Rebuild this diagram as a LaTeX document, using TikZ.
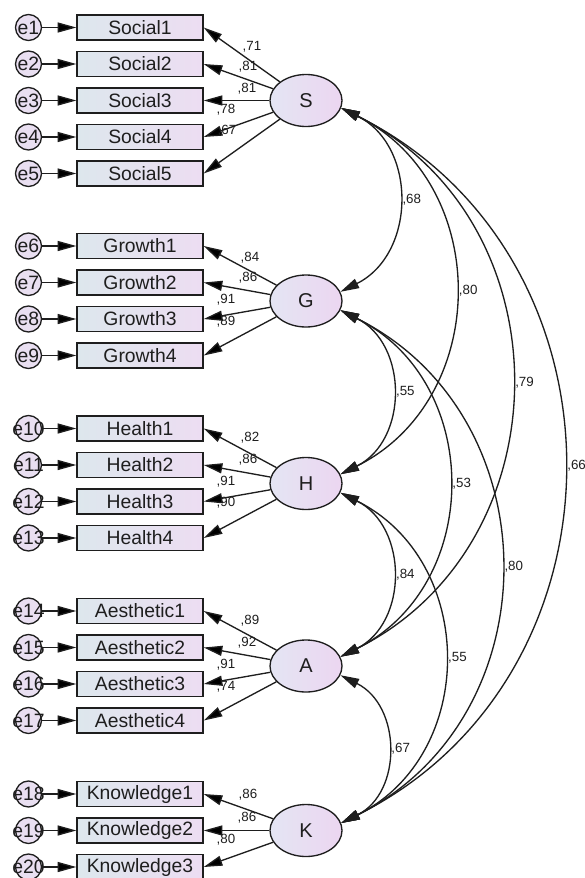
\documentclass[tikz,border=0pt]{standalone}
\usepackage{fontspec}
\setmainfont{Liberation Sans}
\usepackage{tikz}
\usetikzlibrary{arrows.meta,shapes.geometric}

\definecolor{boxleft}{RGB}{221,231,237}
\definecolor{boxright}{RGB}{237,221,242}
\definecolor{latleft}{RGB}{228,229,243}
\definecolor{latright}{RGB}{236,214,241}
\definecolor{errfill}{RGB}{233,223,241}
\definecolor{ink}{RGB}{30,30,30}

\begin{document}
\begin{tikzpicture}[x=0.75pt,y=-0.75pt,
	obs/.style={draw=ink,line width=1pt,left color=boxleft,right color=boxright,minimum width=94.5pt,minimum height=18.75pt,inner sep=0pt,text=ink,font=\fontsize{14.5}{16}\selectfont},
	err/.style={shape=circle,draw=ink,line width=1pt,fill=errfill,minimum size=19.5pt,inner sep=0pt,text=ink,font=\fontsize{14.5}{16}\selectfont},
	lat/.style={shape=ellipse,draw=ink,line width=1pt,left color=latleft,right color=latright,minimum width=54pt,minimum height=39pt,inner sep=0pt,text=ink,font=\fontsize{15}{17}\selectfont},
	coef/.style={inner sep=1pt,text=ink,font=\fontsize{10}{12}\selectfont},
	load/.style={draw=ink,line width=1pt,-{Triangle[length=14pt,width=7.5pt]}},
	cov/.style={draw=ink,line width=1pt,{Triangle[length=14pt,width=7.5pt]}-{Triangle[length=14pt,width=7.5pt]}}]

	\useasboundingbox (0,0) rectangle (585,878);

	% latent factors
	\node[lat] (S) at (306, 100.5) {S};
	\node[lat] (G) at (306, 301)   {G};
	\node[lat] (H) at (306, 483.5) {H};
	\node[lat] (A) at (306, 666)   {A};
	\node[lat] (K) at (306, 830.5) {K};

	% observed items
	\node[obs] (s1) at (140, 27.5)  {Social1};
	\node[obs] (s2) at (140, 64)    {Social2};
	\node[obs] (s3) at (140, 100.5) {Social3};
	\node[obs] (s4) at (140, 137)   {Social4};
	\node[obs] (s5) at (140, 173.5) {Social5};
	\node[obs] (g1) at (140, 246)   {Growth1};
	\node[obs] (g2) at (140, 282.5) {Growth2};
	\node[obs] (g3) at (140, 319)   {Growth3};
	\node[obs] (g4) at (140, 355.5) {Growth4};
	\node[obs] (h1) at (140, 428.5) {Health1};
	\node[obs] (h2) at (140, 465)   {Health2};
	\node[obs] (h3) at (140, 501.5) {Health3};
	\node[obs] (h4) at (140, 538)   {Health4};
	\node[obs] (a1) at (140, 611)   {Aesthetic1};
	\node[obs] (a2) at (140, 647.5) {Aesthetic2};
	\node[obs] (a3) at (140, 684)   {Aesthetic3};
	\node[obs] (a4) at (140, 720.5) {Aesthetic4};
	\node[obs] (k1) at (140, 794)   {Knowledge1};
	\node[obs] (k2) at (140, 830.5) {Knowledge2};
	\node[obs] (k3) at (140, 867)   {Knowledge3};

	% error terms
	\node[err] (e1)  at (28.5, 27.5)  {\makebox[0pt]{e1}};
	\node[err] (e2)  at (28.5, 64)    {\makebox[0pt]{e2}};
	\node[err] (e3)  at (28.5, 100.5) {\makebox[0pt]{e3}};
	\node[err] (e4)  at (28.5, 137)   {\makebox[0pt]{e4}};
	\node[err] (e5)  at (28.5, 173.5) {\makebox[0pt]{e5}};
	\node[err] (e6)  at (28.5, 246)   {\makebox[0pt]{e6}};
	\node[err] (e7)  at (28.5, 282.5) {\makebox[0pt]{e7}};
	\node[err] (e8)  at (28.5, 319)   {\makebox[0pt]{e8}};
	\node[err] (e9)  at (28.5, 355.5) {\makebox[0pt]{e9}};
	\node[err] (e10) at (28.5, 428.5) {\makebox[0pt]{e10}};
	\node[err] (e11) at (28.5, 465)   {\makebox[0pt]{e11}};
	\node[err] (e12) at (28.5, 501.5) {\makebox[0pt]{e12}};
	\node[err] (e13) at (28.5, 538)   {\makebox[0pt]{e13}};
	\node[err] (e14) at (28.5, 611)   {\makebox[0pt]{e14}};
	\node[err] (e15) at (28.5, 647.5) {\makebox[0pt]{e15}};
	\node[err] (e16) at (28.5, 684)   {\makebox[0pt]{e16}};
	\node[err] (e17) at (28.5, 720.5) {\makebox[0pt]{e17}};
	\node[err] (e18) at (28.5, 794)   {\makebox[0pt]{e18}};
	\node[err] (e19) at (28.5, 830.5) {\makebox[0pt]{e19}};
	\node[err] (e20) at (28.5, 867)   {\makebox[0pt]{e20}};

	% errors to items
	\path[load] (e1) edge (s1);
	\path[load] (e2) edge (s2);
	\path[load] (e3) edge (s3);
	\path[load] (e4) edge (s4);
	\path[load] (e5) edge (s5);
	\path[load] (e6) edge (g1);
	\path[load] (e7) edge (g2);
	\path[load] (e8) edge (g3);
	\path[load] (e9) edge (g4);
	\path[load] (e10) edge (h1);
	\path[load] (e11) edge (h2);
	\path[load] (e12) edge (h3);
	\path[load] (e13) edge (h4);
	\path[load] (e14) edge (a1);
	\path[load] (e15) edge (a2);
	\path[load] (e16) edge (a3);
	\path[load] (e17) edge (a4);
	\path[load] (e18) edge (k1);
	\path[load] (e19) edge (k2);
	\path[load] (e20) edge (k3);

	% loadings
	\path[load] (S) edge (s1.east);
	\path[load] (S) edge (s2.east);
	\path[load] (S) edge (s3.east);
	\path[load] (S) edge (s4.east);
	\path[load] (S) edge (s5.east);
	\path[load] (G) edge (g1.east);
	\path[load] (G) edge (g2.east);
	\path[load] (G) edge (g3.east);
	\path[load] (G) edge (g4.east);
	\path[load] (H) edge (h1.east);
	\path[load] (H) edge (h2.east);
	\path[load] (H) edge (h3.east);
	\path[load] (H) edge (h4.east);
	\path[load] (A) edge (a1.east);
	\path[load] (A) edge (a2.east);
	\path[load] (A) edge (a3.east);
	\path[load] (A) edge (a4.east);
	\path[load] (K) edge (k1.east);
	\path[load] (K) edge (k2.east);
	\path[load] (K) edge (k3.east);

	\node[coef] (ls1) at (252, 47)  {,71};
	\node[coef] (ls2) at (248, 67)  {,81};
	\node[coef] (ls3) at (247, 89)  {,81};
	\node[coef] (ls4) at (226, 110) {,78};
	\node[coef] (ls5) at (227, 131) {,67};
	\node[coef] (lg1) at (250, 258) {,84};
	\node[coef] (lg2) at (248, 278) {,86};
	\node[coef] (lg3) at (226, 300) {,91};
	\node[coef] (lg4) at (226, 322) {,89};
	\node[coef] (lh1) at (250, 438) {,82};
	\node[coef] (lh2) at (248, 460) {,86};
	\node[coef] (lh3) at (226, 482) {,91};
	\node[coef] (lh4) at (226, 503) {,90};
	\node[coef] (la1) at (250, 621) {,89};
	\node[coef] (la2) at (247, 643) {,92};
	\node[coef] (la3) at (226, 665) {,91};
	\node[coef] (la4) at (226, 687) {,74};
	\node[coef] (lk1) at (248, 795) {,86};
	\node[coef] (lk2) at (247, 818) {,86};
	\node[coef] (lk3) at (226, 840) {,80};

	% covariances
	\draw[cov] (S.-12) .. controls +(26.5:85) and +(-26.5:85) .. node[coef,right,inner sep=3pt] (cSG) {,68} (G.15);
	\draw[cov] (S.-12) .. controls +(26.5:169) and +(-26.5:169) .. node[coef,right,inner sep=3pt] (cSH) {,80} (H.15);
	\draw[cov] (S.-12) .. controls +(26.5:253) and +(-26.5:253) .. node[coef,right,inner sep=3pt] (cSA) {,79} (A.15);
	\draw[cov] (S.-12) .. controls +(26.5:330) and +(-26.5:330) .. node[coef,right,inner sep=3pt] (cSK) {,66} (K.12);
	\draw[cov] (G.-15) .. controls +(26.5:76) and +(-26.5:76) .. node[coef,right,inner sep=3pt] (cGH) {,55} (H.15);
	\draw[cov] (G.-15) .. controls +(26.5:160) and +(-26.5:160) .. node[coef,right,inner sep=3pt] (cGA) {,53} (A.15);
	\draw[cov] (G.-15) .. controls +(26.5:237) and +(-26.5:237) .. node[coef,right,inner sep=3pt] (cGK) {,80} (K.12);
	\draw[cov] (H.-15) .. controls +(26.5:76) and +(-26.5:76) .. node[coef,right,inner sep=3pt] (cHA) {,84} (A.15);
	\draw[cov] (H.-15) .. controls +(26.5:153) and +(-26.5:153) .. node[coef,right,inner sep=3pt] (cHK) {,55} (K.12);
	\draw[cov] (A.-15) .. controls +(26.5:68.5) and +(-26.5:68.5) .. node[coef,right,inner sep=3pt] (cAK) {,67} (K.12);

\end{tikzpicture}
\end{document}
